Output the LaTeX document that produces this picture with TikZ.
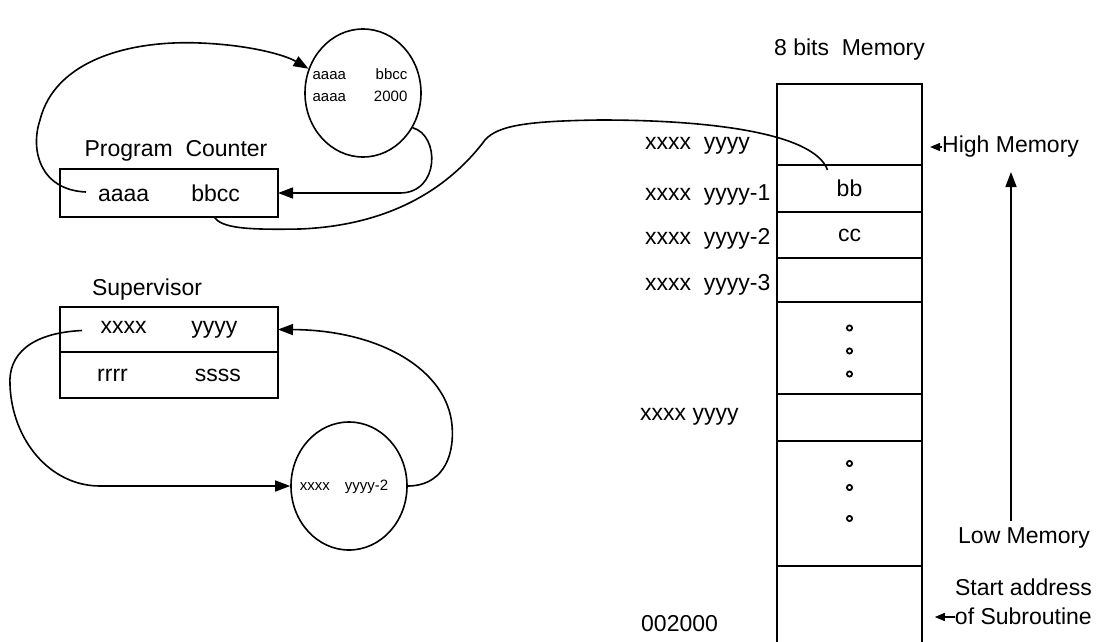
\documentclass[tikz,border=0pt]{standalone}
\usepackage{fontspec}
\setmainfont{Liberation Sans}
\usetikzlibrary{arrows.meta,positioning,shapes.geometric,calc}
\tikzset{
  reg/.style={draw, rectangle, line width=1.6pt, minimum width=218pt, inner sep=0pt, outer sep=0pt},
  cell/.style={draw, rectangle, line width=1.6pt, minimum width=145pt, inner sep=0pt, outer sep=0pt},
  oval/.style={draw, ellipse, line width=1.6pt, minimum width=116pt, minimum height=128pt, inner sep=0pt},
  small/.style={inner sep=0pt, font=\fontsize{15}{22}\selectfont},
  lbl/.style={inner sep=0pt},
  arr/.style={-{Triangle[length=15pt, width=11pt]}, line width=1.6pt},
  sarr/.style={-{Triangle[length=10pt, width=8pt]}, line width=1.4pt},
  lead/.style={line width=1.6pt},
  dot/.style={line width=1.8pt},
}

\begin{document}
\begin{tikzpicture}[x=1pt, y=-1pt, font=\fontsize{23}{29}\selectfont]
\clip (0,0) rectangle (1097,642);

% registers
\node[reg, anchor=north west, minimum height=48pt] (pc) at (60,169) {aaaa\hspace{42pt}bbcc};
\node[lbl, above=8pt of pc, xshift=7pt] (pclbl) {Program\ \ Counter};
\node[reg, anchor=north west, minimum height=45pt] (sv1) at (60,307) {xxxx\hspace{45pt}yyyy};
\node[reg, below=0pt of sv1, minimum height=46pt] (sv2) {rrrr\hspace{67pt}ssss};
\node[lbl, above=7pt of sv1, xshift=-22pt] (svlbl) {Supervisor};

% stack contents
\node[oval] (ov1) at (363,93) {};
\node[small] (ov1txt) at (360,86) {\begin{tabular}{@{}l@{\hspace{28pt}}r@{}}aaaa & bbcc\\ aaaa & 2000\end{tabular}};
\node[oval] (ov2) at (349,486) {};
\node[small] (ov2txt) at (344,487) {xxxx\hspace{15pt}yyyy-2};

% memory column
\node[cell, anchor=north west, minimum height=81pt] (m0) at (777,84) {};
\node[cell, below=0pt of m0, minimum height=47pt] (m1) {bb};
\node[cell, below=0pt of m1, minimum height=46pt] (m2) {cc};
\node[cell, below=0pt of m2, minimum height=44pt] (m3) {};
\node[cell, below=0pt of m3, minimum height=92pt] (m4) {};
\node[cell, below=0pt of m4, minimum height=47pt] (m5) {};
\node[cell, below=0pt of m5, minimum height=125pt] (m6) {};
\node[cell, below=0pt of m6, minimum height=120pt] (m7) {};
\node[lbl, above=24pt of m0] (memlbl) {8 bits\ \ Memory};

\foreach \dy in {-20,3,26} \draw[dot] ($(m4.center)+(0,\dy)$) circle (2.6pt);
\foreach \dy in {-40,-16,15} \draw[dot] ($(m6.center)+(0,\dy)$) circle (2.6pt);

% addresses
\node[lbl, anchor=west] (a0) at (645,146) {xxxx\ \ yyyy};
\node[lbl, anchor=west] (a1) at (645,195) {xxxx\ \ yyyy-1};
\node[lbl, anchor=west] (a2) at (645,239) {xxxx\ \ yyyy-2};
\node[lbl, anchor=west] (a3) at (645,285) {xxxx\ \ yyyy-3};
\node[lbl, anchor=west] (a4) at (640,417) {xxxx yyyy};
\node[lbl, anchor=west] (a5) at (641,624) {002000};

\node[lbl, anchor=west] (hilbl) at (942,147) {High Memory};
\node[lbl] (lolbl) at (1024,538) {Low Memory};
\node[lbl, align=right, anchor=east] (subr) at (1092,602) {Start address\\of Subroutine};

\coordinate (lowend) at (1011,521);
\coordinate (highend) at (1011,172);
\coordinate (bbend) at ($(m1.north)+(-22,5)$);

\draw[arr] (lowend) -- (highend);
\draw[sarr] (hilbl.west) -- ++(-12,0);
\draw[sarr] ($(subr.west)+(0,15)$) -- ++(-20,0);

% connectors
\draw[arr] ($(pc.west)+(26,-1)$) .. controls (40,190) and (30,150) .. (40,120)
  .. controls (55,60) and (130,40) .. (200,43) .. controls (250,45) and (285,55) .. (ov1.156);
\draw[arr] (ov1.-35) .. controls (440,135) and (440,193) .. (400,193) -- (pc.east);
\draw[lead] ($(pc.south)+(45,0)$) .. controls (222,228) and (245,230) .. (300,229)
  .. controls (400,225) and (455,180) .. (485,140) .. controls (498,125) and (530,121) .. (600,120)
  .. controls (720,120) and (815,135) .. (bbend);
\draw[arr] ($(sv1.west)+(22,1)$) .. controls (30,333) and (8,355) .. (10,385)
  .. controls (12,440) and (50,486) .. (100,486) -- (ov2.west);
\draw[arr] (ov2.east) .. controls (440,486) and (455,460) .. (452,425)
  .. controls (447,370) and (380,330) .. (sv1.east);

\end{tikzpicture}
\end{document}
